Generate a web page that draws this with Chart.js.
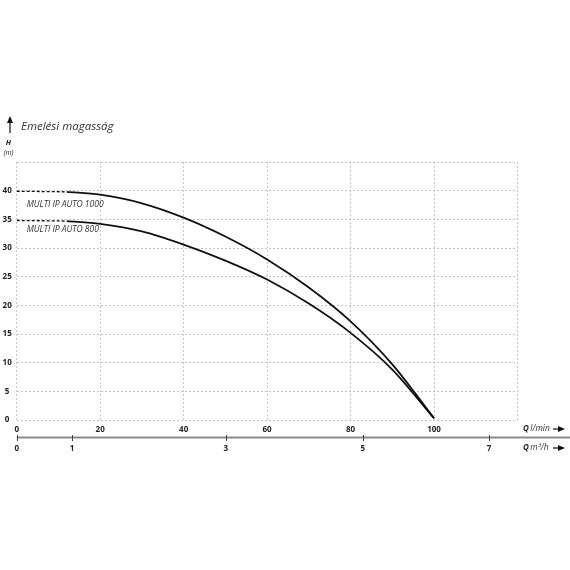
<!DOCTYPE html>
<html>
<head>
<meta charset="utf-8">
<script src="https://cdn.jsdelivr.net/npm/chart.js@4.4.0/dist/chart.umd.min.js"></script>
<style>
  html, body { margin: 0; padding: 0; background: #fff; }
  #wrap { width: 570px; height: 570px; }
</style>
</head>
<body>
<div id="wrap"><canvas id="pumpChart" width="570" height="570"></canvas></div>
<script>
// Pump curve data (Q in l/min, H in m)
const seriesNames = ['MULTI IP AUTO 1000', 'MULTI IP AUTO 800'];
const flowLmin = [12, 20, 30, 40, 50, 60, 70, 80, 90, 100];
const head1000 = [39.8, 39.3, 37.8, 35.3, 32.0, 28.0, 23.1, 17.2, 9.7, 0.3];
const head800 = [34.7, 34.2, 32.9, 30.6, 27.8, 24.5, 20.3, 15.2, 8.8, 0.3];
// dashed start of each curve (below the minimum flow)
const dashFlow = [0, 12];
const dashHead1000 = [39.9, 39.8];
const dashHead800 = [34.8, 34.7];

// axis ticks
const yTicks = [0, 5, 10, 15, 20, 25, 30, 35, 40];
const xTicks = [0, 20, 40, 60, 80, 100];
// m3/h scale sits under the l/min scale at these l/min positions
const m3hLabels = ['0', '1', '3', '5', '7'];
const m3hAtLmin = [0, 13.25, 50.1, 82.9, 113.2];

const FONT = "'Open Sans', 'Noto Sans', sans-serif";

function pts(xs, ys) {
    return xs.map((x, i) => ({ x: x, y: ys[i] }));
}

const gridStyle = { color: '#c6c6c6', lineWidth: 1, drawTicks: false };

const extras = {
    id: 'extras',
    afterDraw(chart) {
        const ctx = chart.ctx;
        const x = chart.scales.x;
        const y = chart.scales.y;
        const x2 = chart.scales.x2;
        ctx.save();

        // curve names
        ctx.fillStyle = '#333';
        ctx.font = 'italic 8.5px ' + FONT;
        ctx.textBaseline = 'middle';
        ctx.textAlign = 'left';
        ctx.fillText(seriesNames[0], x.getPixelForValue(2.4), y.getPixelForValue(37.6));
        ctx.fillText(seriesNames[1], x.getPixelForValue(2.4), y.getPixelForValue(33.2));

        // y axis title with arrow
        ctx.strokeStyle = '#111';
        ctx.fillStyle = '#111';
        ctx.lineWidth = 1.2;
        ctx.beginPath();
        ctx.moveTo(10, 133);
        ctx.lineTo(10, 121);
        ctx.stroke();
        ctx.beginPath();
        ctx.moveTo(10, 116);
        ctx.lineTo(7, 123);
        ctx.lineTo(13, 123);
        ctx.closePath();
        ctx.fill();

        ctx.fillStyle = '#333';
        ctx.font = 'italic 11.5px ' + FONT;
        ctx.fillText('Emelési magasság', 21, 127);

        ctx.textAlign = 'center';
        ctx.fillStyle = '#222';
        ctx.font = 'italic bold 7.5px ' + FONT;
        ctx.fillText('H', 8.5, 143);
        ctx.font = 'italic 7px ' + FONT;
        ctx.fillText('(m)', 8.5, 153);

        // second (m3/h) axis line with its tick marks
        const ly = 437.5;
        ctx.strokeStyle = '#8a8a8a';
        ctx.lineWidth = 2;
        ctx.beginPath();
        ctx.moveTo(chart.chartArea.left, ly);
        ctx.lineTo(570, ly);
        ctx.stroke();
        ctx.strokeStyle = '#444';
        ctx.lineWidth = 1;
        m3hAtLmin.forEach(v => {
            const px = Math.round(x2.getPixelForValue(v)) + 0.5;
            ctx.beginPath();
            ctx.moveTo(px, ly - 2.5);
            ctx.lineTo(px, ly + 3.5);
            ctx.stroke();
        });

        // axis names with arrows
        function qLabel(unit, ty, ax0, ax1) {
            ctx.textAlign = 'left';
            ctx.fillStyle = '#222';
            ctx.font = 'italic bold 8px ' + FONT;
            ctx.fillText('Q', 523, ty);
            const qw = ctx.measureText('Q').width + 1.5;
            ctx.font = 'italic 8.5px ' + FONT;
            ctx.fillStyle = '#333';
            ctx.fillText(unit, 523 + qw, ty);
            ctx.strokeStyle = '#111';
            ctx.lineWidth = 1.2;
            ctx.beginPath();
            ctx.moveTo(ax0, ty);
            ctx.lineTo(ax1 - 5, ty);
            ctx.stroke();
            ctx.fillStyle = '#111';
            ctx.beginPath();
            ctx.moveTo(ax1, ty);
            ctx.lineTo(ax1 - 7, ty - 3);
            ctx.lineTo(ax1 - 7, ty + 3);
            ctx.closePath();
            ctx.fill();
        }
        qLabel('l/min', 429, 553, 565);
        qLabel('m³/h', 448, 553, 565);

        ctx.restore();
    }
};

const ctx = document.getElementById('pumpChart').getContext('2d');
const pumpChart = new Chart(ctx, {
    type: 'line',
    data: {
        datasets: [
            {
                label: seriesNames[0],
                data: pts(flowLmin, head1000),
                borderColor: '#111',
                borderWidth: 1.8,
                pointRadius: 0,
                cubicInterpolationMode: 'monotone',
                fill: false
            },
            {
                label: seriesNames[1],
                data: pts(flowLmin, head800),
                borderColor: '#111',
                borderWidth: 1.8,
                pointRadius: 0,
                cubicInterpolationMode: 'monotone',
                fill: false
            },
            {
                label: seriesNames[0] + ' min',
                data: pts(dashFlow, dashHead1000),
                borderColor: '#111',
                borderWidth: 1.3,
                borderDash: [3, 2],
                pointRadius: 0,
                fill: false
            },
            {
                label: seriesNames[1] + ' min',
                data: pts(dashFlow, dashHead800),
                borderColor: '#111',
                borderWidth: 1.3,
                borderDash: [3, 2],
                pointRadius: 0,
                fill: false
            }
        ]
    },
    options: {
        responsive: false,
        animation: false,
        layout: {
            padding: { top: 162, right: 52.5, left: 0, bottom: 0 }
        },
        plugins: {
            legend: { display: false },
            tooltip: { enabled: false }
        },
        scales: {
            x: {
                type: 'linear',
                position: 'bottom',
                min: 0,
                max: 120,
                afterBuildTicks: s => { s.ticks = xTicks.concat([120]).map(v => ({ value: v })); },
                afterFit: s => { s.height = 18; },
                grid: gridStyle,
                border: { display: false, dash: [2, 2] },
                ticks: {
                    padding: 5,
                    color: '#222',
                    font: { family: FONT, size: 8, weight: 'bold' },
                    maxRotation: 0,
                    autoSkip: false,
                    callback: v => (v === 120 ? '' : String(v))
                }
            },
            x2: {
                type: 'linear',
                position: 'bottom',
                min: 0,
                max: 120,
                afterBuildTicks: s => { s.ticks = m3hAtLmin.map(v => ({ value: v })); },
                afterFit: s => { s.height = 132; },
                grid: { drawOnChartArea: false, drawTicks: false },
                border: { display: false },
                ticks: {
                    padding: 6,
                    color: '#222',
                    font: { family: FONT, size: 8, weight: 'bold' },
                    maxRotation: 0,
                    autoSkip: false,
                    callback: (v, i) => m3hLabels[i]
                }
            },
            y: {
                type: 'linear',
                min: 0,
                max: 45,
                afterBuildTicks: s => { s.ticks = yTicks.concat([45]).map(v => ({ value: v })); },
                afterFit: s => { s.width = 16.7; },
                grid: gridStyle,
                border: { display: false, dash: [2, 2] },
                ticks: {
                    padding: 5,
                    crossAlign: 'center',
                    color: '#222',
                    font: { family: FONT, size: 8, weight: 'bold' },
                    callback: v => (v === 45 ? '' : String(v))
                }
            }
        }
    },
    plugins: [extras]
});
</script>
</body>
</html>
